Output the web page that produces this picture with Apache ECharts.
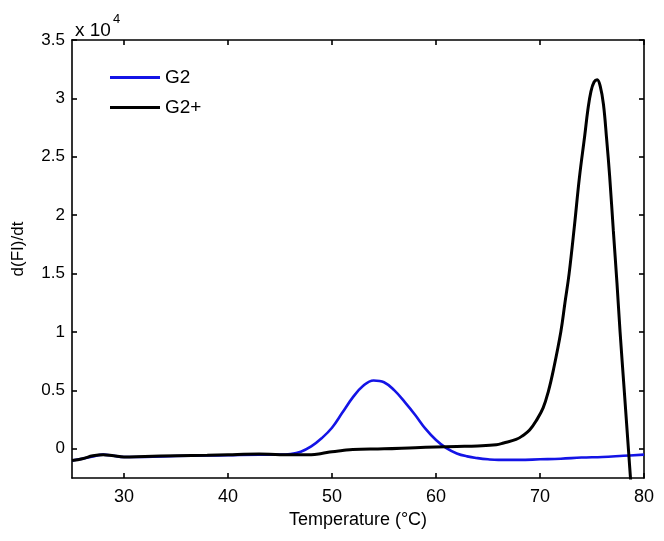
<!DOCTYPE html>
<html>
<head>
<meta charset="utf-8">
<script src="https://cdn.jsdelivr.net/npm/echarts@6/dist/echarts.min.js"></script>
<style>html,body{margin:0;padding:0;background:#fff}#c{width:664px;height:541px}</style>
</head>
<body>
<div id="c"></div>
<script>
// Temperature (°C) and d(FI)/dt values (in units of 1e4)
var g2Temp = [25,26,27,28,29,30,32,35,38,40,43,45,46,47,48,49,50,51,52,53,54,55,56,57,58,59,60,61,62,63,64,65,66,68,70,72,74,76,78,80];
var g2Vals = [-0.10,-0.085,-0.065,-0.05,-0.06,-0.07,-0.07,-0.062,-0.058,-0.055,-0.05,-0.05,-0.045,-0.025,0.02,0.09,0.18,0.31,0.44,0.54,0.585,0.57,0.50,0.40,0.29,0.17,0.075,0.005,-0.04,-0.065,-0.08,-0.09,-0.095,-0.095,-0.09,-0.085,-0.075,-0.07,-0.06,-0.05];
var g2pTemp = [25,26,27,28,29,30,32,35,38,40,43,45,47,48,49,50,51,52,55,58,60,62,64,65.8,66.5,67.7,68.3,69,69.7,70.3,70.8,71.3,72,72.4,72.8,73.3,73.8,74.3,74.6,74.9,75.2,75.5,75.8,76.1,76.4,76.7,77.05,77.4,77.7,78.1,78.5,78.9];
var g2pVals = [-0.10,-0.085,-0.06,-0.05,-0.06,-0.07,-0.065,-0.06,-0.055,-0.05,-0.045,-0.05,-0.05,-0.05,-0.04,-0.025,-0.015,-0.005,0.0,0.01,0.015,0.02,0.025,0.035,0.05,0.08,0.11,0.16,0.25,0.35,0.49,0.68,1.0,1.25,1.5,1.9,2.33,2.68,2.9,3.06,3.14,3.16,3.1,2.95,2.66,2.33,1.87,1.42,1.0,0.5,0.0,-0.5];
var xTicks = [30,40,50,60,70,80];
var yTicks = [0,0.5,1,1.5,2,2.5,3,3.5];
var seriesNames = ['G2','G2+'];

function pairs(t, v){ return t.map(function(x,i){ return [x, v[i]]; }); }

var font = 'Liberation Sans, Arial, sans-serif';
var axisCommon = {
  type: 'value',
  splitLine: {show:false},
  axisLine: {show:true, onZero:false, lineStyle:{color:'#000', width:1.6}},
  axisTick: {show:true, inside:true, length:5, lineStyle:{color:'#000', width:1.6}}
};
var chart = echarts.init(document.getElementById('c'));
chart.setOption({
  backgroundColor:'#fff',
  animation:false,
  title:{
    left:70, top:8,
    text:'{a|x 10}{b|4}',
    textStyle:{rich:{
      a:{fontFamily:font, fontSize:19, fontWeight:'normal', color:'#000', padding:[8,0,0,0]},
      b:{fontFamily:font, fontSize:13, fontWeight:'normal', color:'#000', verticalAlign:'top', padding:[0,0,8,2]}
    }}
  },
  legend:{
    orient:'vertical', left:105, top:63, itemGap:11,
    icon:'rect', itemWidth:50, itemHeight:3,
    textStyle:{fontFamily:font, fontSize:19, color:'#000'},
    data:seriesNames
  },
  grid:{left:72, right:20, top:40, bottom:63, containLabel:false},
  xAxis:[
    Object.assign({}, axisCommon, {
      min:25, max:80, position:'bottom',
      name:'Temperature (°C)', nameLocation:'middle', nameGap:33,
      nameTextStyle:{fontFamily:font, fontSize:18, color:'#000'},
      axisTick: Object.assign({}, axisCommon.axisTick, {customValues:xTicks}),
      axisLabel:{customValues:xTicks, margin:10, fontFamily:font, fontSize:18, color:'#000'}
    }),
    Object.assign({}, axisCommon, {
      min:25, max:80, position:'top',
      axisTick: Object.assign({}, axisCommon.axisTick, {customValues:xTicks}),
      axisLabel:{show:false}
    })
  ],
  yAxis:[
    Object.assign({}, axisCommon, {
      min:-0.25, max:3.5, position:'left',
      name:'d(FI)/dt', nameLocation:'middle', nameGap:45,
      nameTextStyle:{fontFamily:font, fontSize:17, color:'#000', padding:[0,0,0,20]},
      axisTick: Object.assign({}, axisCommon.axisTick, {customValues:yTicks}),
      axisLabel:{customValues:yTicks, margin:7, fontFamily:font, fontSize:17, color:'#000'}
    }),
    Object.assign({}, axisCommon, {
      min:-0.25, max:3.5, position:'right',
      axisTick: Object.assign({}, axisCommon.axisTick, {customValues:yTicks}),
      axisLabel:{show:false}
    })
  ],
  series:[
    {name:seriesNames[0], type:'line', data:pairs(g2Temp,g2Vals), smooth:0.4, symbol:'none', clip:true,
     itemStyle:{color:'#1414e6'}, lineStyle:{color:'#1414e6', width:2.6}},
    {name:seriesNames[1], type:'line', data:pairs(g2pTemp,g2pVals), smooth:0.4, symbol:'none', clip:true,
     itemStyle:{color:'#000'}, lineStyle:{color:'#000', width:3}}
  ]
});
</script>
</body>
</html>
